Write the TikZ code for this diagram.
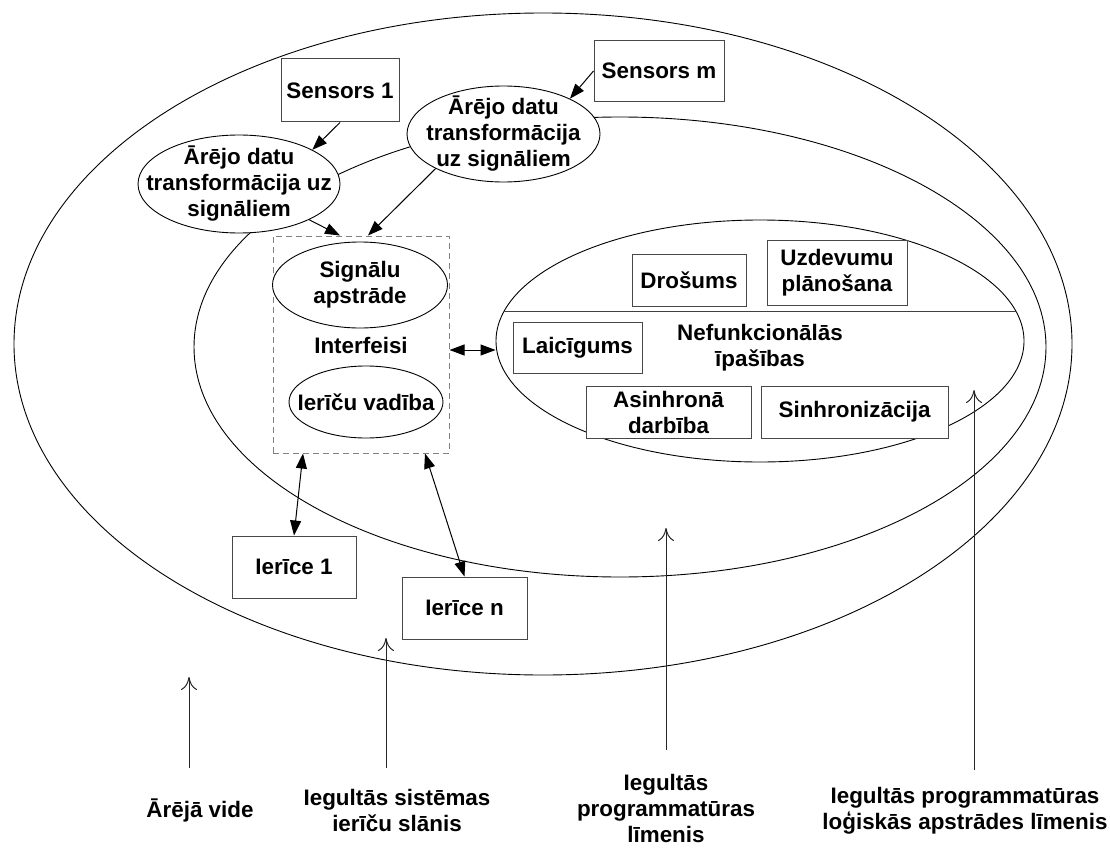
\documentclass[tikz,border=0pt]{standalone}
\usepackage{fontspec}
\setmainfont{Liberation Sans}
\usetikzlibrary{shapes.geometric,arrows.meta}
\begin{document}
\begin{tikzpicture}[x=1pt,y=-1pt,
  font=\fontsize{22.4}{26}\selectfont\bfseries,
  ell/.style={draw=black, line width=0.9pt, ellipse, fill=white, inner sep=0pt},
  hollow/.style={draw=black, line width=0.9pt, ellipse, inner sep=0pt},
  box/.style={draw=black!72, line width=1pt, rectangle, fill=white, inner sep=0pt, align=center},
  dbox/.style={draw=black!50, line width=1pt, rectangle, dash pattern=on 6pt off 4pt, inner sep=0pt},
  txt/.style={align=center, inner sep=0pt},
  arr/.style={line width=1pt, -{Triangle[length=15pt,width=11pt]}},
  darr/.style={line width=1pt, {Triangle[length=15pt,width=11pt]}-{Triangle[length=15pt,width=11pt]}},
  lvl/.style={line width=1pt, draw=black!85, -{Computer Modern Rightarrow[length=13pt,width=16pt]}}
]
\fill[white] (0,0) rectangle (1110,848);
\useasboundingbox (0,0) rectangle (1110,848);

% layers
\node[hollow, minimum width=1058pt, minimum height=662pt] (outer) at (543,344) {};
\node[hollow, minimum width=852pt, minimum height=460pt] (mid) at (620,347) {};
\node[hollow, minimum width=528pt, minimum height=242pt] (inner) at (760,341) {};
\draw[line width=1pt, black!75] (504.2,311) -- (1015.8,311);

% logic level contents
\node[box, minimum width=114pt, minimum height=52pt] (dro) at (689,280) {Drošums};
\node[box, minimum width=140pt, minimum height=65pt] (uzd) at (837,272.5) {Uzdevumu\\plānošana};
\node[box, minimum width=129pt, minimum height=51pt] (lai) at (577.5,347.5) {Laicīgums};
\node[txt] (nef) at (760,348) {Nefunkcionālās\\īpašības};
\node[box, minimum width=165pt, minimum height=52pt] (asi) at (668.5,412) {Asinhronā\\darbība};
\node[box, minimum width=187pt, minimum height=52pt] (sin) at (854.5,412) {Sinhronizācija};

% level arrows
\coordinate (a1b) at (189,768); \coordinate (a1t) at (189,677);
\coordinate (a2b) at (386,768); \coordinate (a2t) at (386,638);
\coordinate (a3b) at (666,750); \coordinate (a3t) at (666,528);
\coordinate (a4b) at (974,770); \coordinate (a4t) at (974,390);
\draw[lvl] (a1b) -- (a1t);
\draw[lvl] (a2b) -- (a2t);
\draw[lvl] (a3b) -- (a3t);
\draw[lvl] (a4b) -- (a4t);

% interfaces
\node[dbox, minimum width=176pt, minimum height=217pt] (ifc) at (361,344.5) {};
\node[ell, minimum width=175pt, minimum height=86pt] (sig) at (360,285) {};
\node[txt] (sigt) at (sig) {Signālu\\apstrāde};
\node[txt] (int) at (361,345) {Interfeisi};
\node[ell, minimum width=154pt, minimum height=72pt] (iev) at (366,402) {};
\node[txt] (ievt) at (iev) {Ierīču vadība};

% transformations
\node[ell, minimum width=202pt, minimum height=98pt] (e1) at (239,184) {};
\node[txt] (e1t) at (e1) {Ārējo datu\\transformācija uz\\signāliem};
\node[ell, minimum width=193pt, minimum height=96pt] (e2) at (503.5,134) {};
\node[txt] (e2t) at (e2) {Ārējo datu\\transformācija\\uz signāliem};

% sensors
\node[box, minimum width=118pt, minimum height=63pt] (s1) at (340,90.5) {Sensors 1};
\node[box, minimum width=130pt, minimum height=61pt] (sm) at (659,71) {Sensors m};

% devices
\node[box, minimum width=124pt, minimum height=62pt] (i1) at (294,567) {Ierīce 1};
\node[box, minimum width=125pt, minimum height=62pt] (in) at (464.5,608) {Ierīce n};

% connectors
\draw[arr] (s1.south) -- (e1.25);
\draw[arr] (sm.west) -- (e2.28);
\draw[arr] (e1.-27) -- ([xshift=-21pt]ifc.north);
\draw[arr] (e2.-153) -- ([xshift=7pt]ifc.north);
\draw[darr] ([yshift=-5.5pt]ifc.east) -- ([yshift=-5.5pt]ifc.east -| inner.west);
\draw[darr] (i1.north) -- ([xshift=-58pt]ifc.south);
\draw[darr] (in.north) -- ([xshift=64pt]ifc.south);

% level labels
\node[txt] (l1) at (200,810) {Ārējā vide};
\node[txt] (l2) at (397,810) {Iegultās sistēmas\\ierīču slānis};
\node[txt] (l3) at (666,808) {Iegultās\\programmatūras\\līmenis};
\node[txt] (l4) at (965,811) {Iegultās programmatūras\\loģiskās apstrādes līmenis};
\end{tikzpicture}
\end{document}
